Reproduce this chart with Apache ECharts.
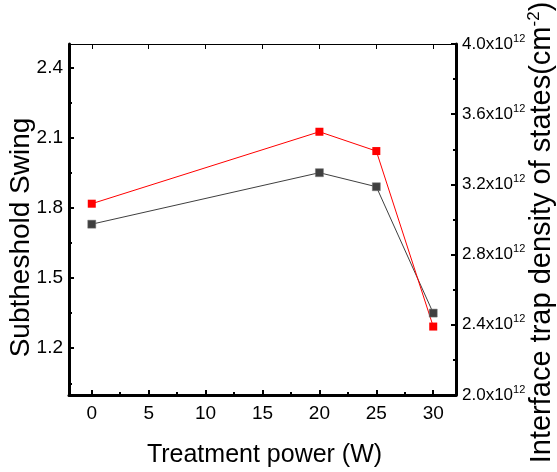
<!DOCTYPE html>
<html><head><meta charset="utf-8">
<script src="https://cdn.jsdelivr.net/npm/echarts@6/dist/echarts.min.js"></script>
<style>html,body{margin:0;padding:0;background:#fff}#c{width:557px;height:472px}</style>
</head><body><div id="c"></div>
<script>
const power = [0, 20, 25, 30];
const swing = [1.73, 1.95, 1.89, 1.35];
const dit = [3.09, 3.50, 3.39, 2.39]; // x10^12 cm^-2
const xTicks = [0, 5, 10, 15, 20, 25, 30];
const xMinor = [2.5, 7.5, 12.5, 17.5, 22.5, 27.5];
const leftTicks = [1.2, 1.5, 1.8, 2.1, 2.4];
const leftMinor = [1.05, 1.35, 1.65, 1.95, 2.25];

const FONT = 'Liberation Sans, Arial, sans-serif';
const chart = echarts.init(document.getElementById('c'));
const noLine = {show: false};
chart.setOption({
  animation: false,
  backgroundColor: '#fff',
  textStyle: {fontFamily: FONT},
  grid: {left: 69, right: 101, top: 44, bottom: 77, containLabel: false, outerBoundsMode: 'none'},
  xAxis: [
    {type: 'value', position: 'bottom', min: -2, max: 32,
     axisLine: {onZero: false, lineStyle: {color: '#000', width: 3}},
     axisTick: {inside: true, length: 5, customValues: xTicks, lineStyle: {color: '#000', width: 2}},
     axisLabel: {customValues: xTicks, color: '#000', fontSize: 19, margin: 9, fontFamily: FONT},
     splitLine: noLine,
     name: 'Treatment power (W)', nameLocation: 'middle', nameGap: 48, nameMoveOverlap: false,
     nameTextStyle: {fontSize: 25, color: '#000', fontFamily: FONT, padding: [0, 0, 0, 4]}},
    {type: 'value', position: 'top', min: -2, max: 32,
     axisLine: {onZero: false, lineStyle: {color: '#000', width: 1}},
     axisTick: {inside: true, length: 5, customValues: xTicks, lineStyle: {color: '#000', width: 1}},
     axisLabel: {show: false}, splitLine: noLine},
    {type: 'value', position: 'bottom', min: -2, max: 32,
     axisLine: {show: false, onZero: false},
     axisTick: {inside: true, length: 3, customValues: xMinor, lineStyle: {color: '#000', width: 2}},
     axisLabel: {show: false}, splitLine: noLine}
  ],
  yAxis: [
    {type: 'value', position: 'left', min: 1.0, max: 2.5,
     axisLine: {show: true, onZero: false, lineStyle: {color: '#000', width: 3}},
     axisTick: {show: true, inside: true, length: 5, customValues: leftTicks, lineStyle: {color: '#000', width: 2}},
     axisLabel: {customValues: leftTicks, formatter: v => v.toFixed(1), color: '#000', fontSize: 19, margin: 6, fontFamily: FONT},
     splitLine: noLine,
     name: 'Subtheshold Swing', nameLocation: 'middle', nameGap: 34, nameMoveOverlap: false,
     nameTextStyle: {fontSize: 28, color: '#000', fontFamily: FONT, padding: [0, 36, 0, 0]}},
    {type: 'value', position: 'right', min: 2.0, max: 4.0, interval: 0.4,
     axisLine: {show: true, onZero: false, lineStyle: {color: '#000', width: 3}},
     axisTick: {show: true, inside: true, length: 5, lineStyle: {color: '#000', width: 2}},
     minorTick: {show: true, splitNumber: 2, length: 3, lineStyle: {color: '#000', width: 2}},
     axisLabel: {color: '#000', margin: 6,
       formatter: v => '{a|' + v.toFixed(1) + 'x10}{s|12}',
       rich: {a: {fontSize: 17, color: '#000', fontFamily: FONT, lineHeight: 22},
              s: {fontSize: 11, color: '#000', fontFamily: FONT, verticalAlign: 'top', lineHeight: 22}}},
     splitLine: noLine,
     name: 'Interface trap density of states(cm{s|-2})', nameLocation: 'middle', nameGap: 70, nameMoveOverlap: false,
     nameTextStyle: {fontSize: 29, color: '#000', fontFamily: FONT, lineHeight: 32, padding: [0, 26, 0, 0],
       rich: {s: {fontSize: 17, color: '#000', fontFamily: FONT, verticalAlign: 'top', lineHeight: 32}}}},
    {type: 'value', position: 'left', min: 1.0, max: 2.5,
     axisLine: {show: false, onZero: false},
     axisTick: {show: true, inside: true, length: 3, customValues: leftMinor, lineStyle: {color: '#000', width: 2}},
     axisLabel: {show: false}, splitLine: noLine}
  ],
  series: [
    {type: 'line', name: 'Subthreshold swing', xAxisIndex: 0, yAxisIndex: 0,
     data: power.map((p, i) => [p, swing[i]]),
     symbol: 'rect', symbolSize: 8,
     itemStyle: {color: '#3f3f3f', borderColor: '#777', borderWidth: 0.5},
     lineStyle: {color: '#3f3f3f', width: 1}},
    {type: 'line', name: 'Interface trap density', xAxisIndex: 0, yAxisIndex: 1,
     data: power.map((p, i) => [p, dit[i]]),
     symbol: 'rect', symbolSize: 8,
     itemStyle: {color: '#ff0000'},
     lineStyle: {color: '#ff0000', width: 1}}
  ]
});
</script></body></html>
